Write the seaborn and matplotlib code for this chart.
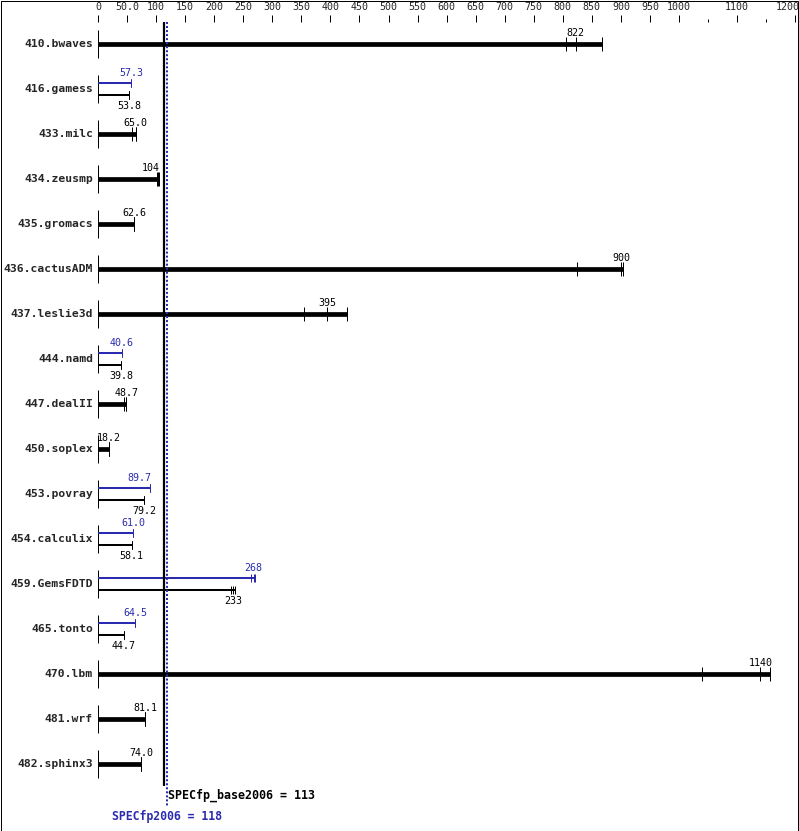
import numpy as np
import matplotlib
matplotlib.use("Agg")
import matplotlib.pyplot as plt
import seaborn as sns

# ── Data ─────────────────────────────────────────────────────────────────────

benchmarks = ["410.bwaves", "416.gamess", "433.milc", "434.zeusmp", "435.gromacs",
              "436.cactusADM", "437.leslie3d", "444.namd", "447.dealII", "450.soplex",
              "453.povray", "454.calculix", "459.GemsFDTD", "465.tonto", "470.lbm",
              "481.wrf", "482.sphinx3"]

# median base ratio per benchmark, and the three base runs
base_median = [822, 53.8, 65.0, 104, 62.6, 900, 395, 39.8, 48.7, 18.2,
               79.2, 58.1, 233, 44.7, 1140, 81.1, 74.0]
base_runs = [[806, 822, 867], [53.8, 53.8, 53.8], [58.0, 65.0, 65.2], [101, 104, 105],
             [62.6, 62.6, 62.7], [824, 900, 903], [355, 395, 429], [39.8, 39.8, 39.8],
             [45.5, 48.7, 48.8], [18.1, 18.2, 18.3], [79.2, 79.2, 79.2], [58.1, 58.1, 58.1],
             [229, 233, 236], [44.7, 44.7, 44.7], [1040, 1140, 1157], [81.0, 81.1, 81.2],
             [73.9, 74.0, 74.1]]

# peak results only where they differ from base (None = same as base)
peak_median = [None, 57.3, None, None, None, None, None, 40.6, None, None,
               89.7, 61.0, 268, 64.5, None, None, None]
peak_runs = [None, [57.3, 57.3, 57.3], None, None, None, None, None, [40.6, 40.6, 40.6],
             None, None, [89.7, 89.7, 89.7], [61.0, 61.0, 61.0], [263, 268, 271],
             [64.5, 64.5, 64.5], None, None, None]

base_score = 113
peak_score = 118

tick_values = list(range(0, 1001, 50)) + [1050, 1100, 1150, 1200]
tick_labels = ["0", "50.0"] + [str(v) for v in range(100, 1001, 50)] + ["", "1100", "", "1200"]

# ── Style ────────────────────────────────────────────────────────────────────

sns.set_style("white")
plt.rcParams["font.family"] = ["DejaVu Sans Mono"]

BLUE = "#2b2bb0"
PX = 1 / 45.0          # one pixel in row units
ROW0 = 44              # pixel y of first row
XPX = 1 / 0.581        # one pixel in value units
LW1 = 0.72             # 1 px line in points

fig = plt.figure(figsize=(7.99, 8.31), dpi=100)
ax = fig.add_axes([98 / 799, 0, 699 / 799, 1])
ax.set_xlim(0, 699 * XPX)
ax.set_ylim((831 - ROW0) * PX, -ROW0 * PX)
ax.axis("off")


def py(px):
    # pixel y -> row units
    return (px - ROW0) * PX


def fmt(v):
    return f"{v:.0f}" if v >= 100 else f"{v:.1f}"


# ── Top scale ────────────────────────────────────────────────────────────────

for v, lab in zip(tick_values, tick_labels):
    if lab:
        ax.vlines(v, py(15), py(22), color="black", lw=LW1)
        if v == tick_values[-1]:
            ax.text(v + 5 * XPX, py(7), lab, ha="right", va="center", fontsize=7.2)
        else:
            ax.text(v, py(7), lab, ha="center", va="center", fontsize=7.2)
    else:
        ax.vlines(v, py(19), py(22), color="black", lw=LW1)

# ── Bars ─────────────────────────────────────────────────────────────────────

rows = np.arange(len(benchmarks))
ax.vlines(np.zeros(len(rows)), rows - 14 * PX, rows + 14 * PX, color="black", lw=LW1)


def value_label(x, y, text, va, color):
    # keep the label clear of the overall score lines
    half = len(text) * 3 * XPX
    if x - half < peak_score + 3 * XPX and x + half > base_score - 3 * XPX:
        ax.text(x + 1 * XPX, y, text, ha="right", va=va, fontsize=7.2, color=color, zorder=8)
    else:
        ax.text(x, y, text, ha="center", va=va, fontsize=7.2, color=color, zorder=8)


for i, name in enumerate(benchmarks):
    ax.text(-5 * XPX, i, name, ha="right", va="center", fontsize=8.2, fontweight="bold")
    if peak_median[i] is None:
        runs = base_runs[i]
        ax.hlines(i, 0, max(runs), color="black", lw=3.4)
        ax.vlines(runs, i - 7 * PX, i + 7 * PX, color="black", lw=LW1)
        value_label(base_median[i], i - 6 * PX, fmt(base_median[i]), "bottom", "black")
    else:
        yp, yb = i - 6 * PX, i + 6 * PX
        ax.hlines(yp, 0, max(peak_runs[i]), color=BLUE, lw=1.45)
        ax.vlines(peak_runs[i], yp - 4 * PX, yp + 4 * PX, color=BLUE, lw=LW1)
        ax.hlines(yb, 0, max(base_runs[i]), color="black", lw=1.45)
        ax.vlines(base_runs[i], yb - 4 * PX, yb + 4 * PX, color="black", lw=LW1)
        value_label(peak_median[i], yp - 5 * PX, fmt(peak_median[i]), "bottom", BLUE)
        value_label(base_median[i], yb + 6 * PX, fmt(base_median[i]), "top", "black")

# ── Overall score lines ──────────────────────────────────────────────────────

ax.vlines(base_score, py(22), py(786), color="black", lw=1.6, zorder=5)
ax.vlines(peak_score, py(22), py(807), color=BLUE, lw=1.45, linestyles=(0, (1, 1)), zorder=6)
ax.text(base_score + 7, py(795), f"SPECfp_base2006 = {base_score}", ha="left", va="center",
        fontsize=8.4, fontweight="bold", color="black")
ax.text(peak_score, py(817), f"SPECfp2006 = {peak_score}", ha="center", va="center",
        fontsize=8.3, fontweight="bold", color=BLUE)

fig.add_artist(plt.Rectangle((0.5 / 799, 0.5 / 831), 797.5 / 799, 829.5 / 831,
                             transform=fig.transFigure, fill=False, lw=LW1, color="black"))

fig.savefig("out.png", dpi=100)
plt.close(fig)
